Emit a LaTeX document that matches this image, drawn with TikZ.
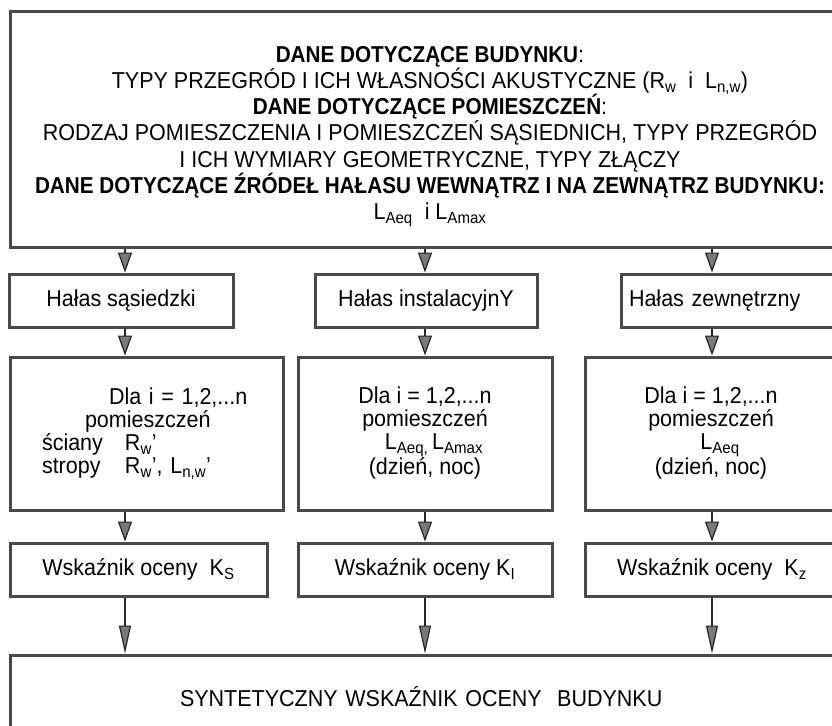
\documentclass[tikz,border=0pt]{standalone}
\usepackage{fontspec}
\setmainfont{Liberation Sans}[FakeStretch=0.935, BoldFeatures={FakeStretch=0.9}]
\usetikzlibrary{arrows.meta}
\definecolor{ramka}{HTML}{4A4A4A}
\definecolor{grot}{HTML}{7A7A7A}
\begin{document}
\begin{tikzpicture}[x=1pt,y=-1pt,
  ramka/.style={draw=ramka, line width=3pt, rectangle, inner sep=0pt, font=\fontsize{23}{26.3}\selectfont},
  gesto/.style={font=\fontsize{23}{23}\selectfont},
  strz/.style={draw=black!85, line width=1.2pt, -{Triangle[length=20pt,width=14pt,fill=grot]}},
  strzd/.style={draw=black!85, line width=1.2pt, -{Triangle[length=28pt,width=12pt,fill=grot]}}]
\clip (0,0) rectangle (832,725);
%\draw[very thin, gray] (0,0) grid[step=50] (832,725);
\node[ramka, minimum width=840pt, minimum height=235pt, align=center] (dane) at (430,129.5)
  {\rule{0pt}{30pt}\textbf{DANE DOTYCZĄCE BUDYNKU}:\\
   TYPY PRZEGRÓD I ICH WŁASNOŚCI AKUSTYCZNE (R\textsubscript{w}\ \ i\ \ L\textsubscript{n,w})\\
   \textbf{DANE DOTYCZĄCE POMIESZCZEŃ}:\\
   RODZAJ POMIESZCZENIA I POMIESZCZEŃ SĄSIEDNICH, TYPY PRZEGRÓD\\
   I ICH WYMIARY GEOMETRYCZNE, TYPY ZŁĄCZY\\
   \textbf{DANE DOTYCZĄCE ŹRÓDEŁ HAŁASU WEWNĄTRZ I NA ZEWNĄTRZ BUDYNKU:}\\
   L\textsubscript{Aeq}\ \ i L\textsubscript{Amax}};
% rodzaje halasu
\node[ramka, minimum width=224pt, minimum height=53pt] (hs) at (121,300.5) {Hałas sąsiedzki};
\node[ramka, minimum width=222pt, minimum height=53pt] (hi) at (426,300.5) {Hałas instalacyjnY};
\node[ramka, minimum height=53pt, inner xsep=8pt, text width=213pt, align=left] (hz) at (735.5,300.5) {Hałas zewnętrzny};
% dla pomieszczen
\node[ramka, gesto, minimum height=153pt, inner xsep=32pt, text width=209pt, align=left] (ds) at (146.5,433.5)
  {\hspace*{67pt}Dla i = 1,2,...n\\
   \hspace*{43pt}pomieszczeń\\
   \makebox[83pt][l]{ściany}R\textsubscript{w}'\\
   \makebox[83pt][l]{stropy}R\textsubscript{w}', L\textsubscript{n,w}'};
\node[ramka, gesto, minimum width=254pt, minimum height=153pt, align=center] (di) at (425,433.5)
  {Dla i = 1,2,...n\\ pomieszczeń\\ \hspace*{18pt}L\textsubscript{Aeq,}\,L\textsubscript{Amax}\\ (dzień, noc)};
\node[ramka, gesto, minimum width=252pt, minimum height=153pt, align=center] (dz) at (711,433.5)
  {Dla i = 1,2,...n\\ pomieszczeń\\ \hspace*{18pt}L\textsubscript{Aeq}\\ (dzień, noc)};
% wskazniki
\node[ramka, minimum width=257pt, minimum height=53pt] (ws) at (138.5,569.5) {Wskaźnik oceny\ \ K\textsubscript{S}};
\node[ramka, minimum width=254pt, minimum height=53pt] (wi) at (425,569.5) {Wskaźnik oceny K\textsubscript{I}};
\node[ramka, minimum width=254pt, minimum height=53pt] (wz) at (712,569.5) {Wskaźnik oceny\ \ K\textsubscript{z}};
\node[ramka, minimum height=84pt, inner xsep=170pt, text width=500pt, align=left] (synt) at (430,697)
  {SYNTETYCZNY WSKAŹNIK OCENY\ \ BUDYNKU};
% strzalki
\coordinate (k1) at (125,0);
\coordinate (k2) at (425,0);
\coordinate (k3) at (712,0);
\foreach \k/\h/\d/\w in {k1/hs/ds/ws, k2/hi/di/wi, k3/hz/dz/wz}{
  \draw[strz] (\k |- dane.south) -- (\k |- \h.north);
  \draw[strz] (\k |- \h.south) -- (\k |- \d.north);
  \draw[strz] (\k |- \d.south) -- (\k |- \w.north);
  \draw[strzd] (\k |- \w.south) -- (\k |- synt.north);
}
\end{tikzpicture}
\end{document}
